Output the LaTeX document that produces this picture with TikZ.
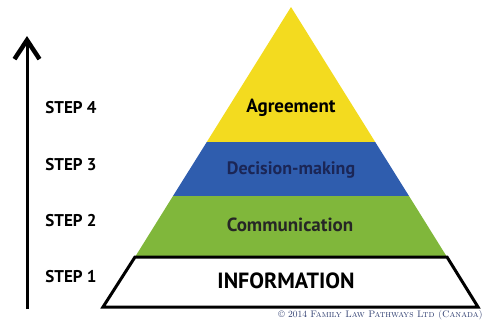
\documentclass[tikz,border=0pt]{standalone}
\usepackage{fontspec}
\setsansfont{PT Sans}
\usetikzlibrary{positioning, arrows.meta}
\definecolor{pyryellow}{HTML}{F3DB1F}
\definecolor{pyrblue}{HTML}{2F5DAE}
\definecolor{pyrgreen}{HTML}{80B73B}
\definecolor{navy}{HTML}{1B2656}
\definecolor{creditblue}{HTML}{2C3B6E}

\begin{document}
\begin{tikzpicture}[x=1pt, y=-1pt, node distance=56.3pt, on grid,
  steplabel/.style={font=\sffamily\bfseries\fontsize{17}{20}\selectfont},
  tier/.style={font=\sffamily\bfseries\fontsize{19}{22}\selectfont, text=#1}]
  \useasboundingbox (0,0) rectangle (484,322);
  % pyramid
  \fill[pyryellow] (291,7) -- (375.2,142) -- (206.8,142) -- cycle;
  \fill[pyrblue] (206.8,142) -- (375.2,142) -- (409,196) -- (173,196) -- cycle;
  \fill[pyrgreen] (173,196) -- (409,196) -- (447,257) -- (135,257) -- cycle;
  \draw[line width=3pt, fill=white] (135,257) -- (447,257) -- (478,307) -- (103,307) -- cycle;
  \node[tier=black] (agree) at (291,108) {Agreement};
  \node[tier=navy, font=\sffamily\bfseries\fontsize{18}{21}\selectfont] (decide) at (291,170) {Decision-making};
  \node[tier=black!85] (comm) at (290,225) {Communication};
  \node[tier=black, font=\sffamily\bfseries\fontsize{22}{25}\selectfont] (info) at (286,281) {INFORMATION};
  % steps
  \node[steplabel] (s4) at (71,108) {STEP 4};
  \node[steplabel] (s3) [below =of s4] {STEP 3};
  \node[steplabel] (s2) [below =of s3] {STEP 2};
  \node[steplabel] (s1) [below =of s2] {STEP 1};
  \coordinate (base) at (27,309);
  \coordinate (top) at (27,36);
  \draw[line width=3pt, -{Straight Barb[length=19pt, width=25pt, line width=4.5pt]}] (base) -- (top);
  \node[anchor=east, text=creditblue, font=\fontsize{9.5}{11}\selectfont, inner sep=1pt] (credit) at (484,315)
    {\textcopyright{} 2014 \textsc{Family Law Pathways Ltd (Canada)}};
\end{tikzpicture}
\end{document}
